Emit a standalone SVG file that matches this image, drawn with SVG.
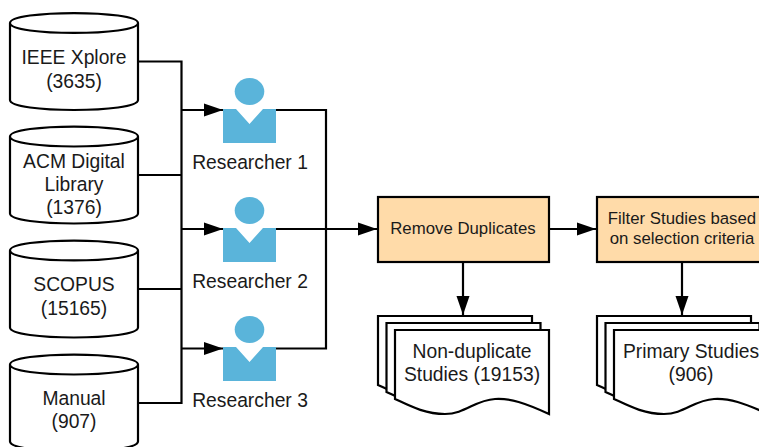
<svg xmlns="http://www.w3.org/2000/svg" width="759" height="447" viewBox="0 0 759 447">
<defs>
<marker id="arrow" markerUnits="userSpaceOnUse" markerWidth="20" markerHeight="14" refX="19" refY="7" orient="auto"><path d="M0,0.5 L19,7 L0,13.5 Z" fill="#000"/></marker>
<path id="cyl" d="M0,10 C0,-3.300 128,-3.300 128,10 V87 C128,100.300 0,100.300 0,87 Z M0,10 C0,23.300 128,23.300 128,10"/>
<g id="person"><ellipse cx="26.500" cy="13.500" rx="14.800" ry="13.500" fill="#5ab4da"/><path d="M0,31 H13 L26.500,46 L40,31 H53 V65 H0 Z" fill="#5ab4da"/></g>
<path id="sheet" d="M0,0 H154 V84 C130,73 115,68 100,69 C80,70 70,84 50,84 C30,84 15,76 0,69 Z"/>
</defs>
<style>
text{font-family:"Liberation Sans",Arial,sans-serif;fill:#1a1a1a;text-anchor:middle}
.s{fill:#fff;stroke:#000;stroke-width:2.200}
.b{fill:#ffdba9;stroke:#000;stroke-width:2.200}
.f18{font-size:19.300px}.f15{font-size:16.800px}
.c{fill:none;stroke:#000;stroke-width:2.200}
</style>
<g id="connectors">
<path class="c" d="M138,61.500 H181.500 V403 H138"/>
<path class="c" d="M138,175 H181.500"/>
<path class="c" d="M138,289 H181.500"/>
<path class="c" marker-end="url(#arrow)" d="M181.500,110 H223"/>
<path class="c" marker-end="url(#arrow)" d="M181.500,229 H223"/>
<path class="c" marker-end="url(#arrow)" d="M181.500,348.500 H223"/>
<path class="c" d="M276,110 H326 V348.500 H276"/>
<path class="c" marker-end="url(#arrow)" d="M276,229 H377"/>
<path class="c" marker-end="url(#arrow)" d="M549,229 H596"/>
<path class="c" marker-end="url(#arrow)" d="M463,262 V315"/>
<path class="c" marker-end="url(#arrow)" d="M682,262 V315"/>
</g>
<g id="db-ieee"><use href="#cyl" x="10" y="13" class="s"/><text class="f18" x="74" y="64">IEEE Xplore</text><text class="f18" x="74" y="87.500">(3635)</text></g>
<g id="db-acm"><use href="#cyl" x="10" y="126.500" class="s"/><text class="f18" x="74" y="168">ACM Digital</text><text class="f18" x="74" y="191">Library</text><text class="f18" x="74" y="214">(1376)</text></g>
<g id="db-scopus"><use href="#cyl" x="10" y="240.500" class="s"/><text class="f18" x="74" y="291">SCOPUS</text><text class="f18" x="74" y="315">(15165)</text></g>
<g id="db-manual"><use href="#cyl" x="10" y="354.500" class="s"/><text class="f18" x="74" y="405">Manual</text><text class="f18" x="74" y="428">(907)</text></g>
<g id="researcher-1"><use href="#person" x="223" y="78"/><text class="f18" x="250" y="169">Researcher 1</text></g>
<g id="researcher-2"><use href="#person" x="223" y="197"/><text class="f18" x="250" y="288">Researcher 2</text></g>
<g id="researcher-3"><use href="#person" x="223" y="316"/><text class="f18" x="250" y="407">Researcher 3</text></g>
<g id="remove-duplicates"><rect class="b" x="378" y="197" width="171" height="65"/><text class="f15" x="463" y="234">Remove Duplicates</text></g>
<g id="filter-studies"><rect class="b" x="597" y="197" width="171" height="65"/><text class="f15" x="682" y="224">Filter Studies based</text><text class="f15" x="682" y="244">on selection criteria</text></g>
<g id="non-duplicate"><use href="#sheet" x="378" y="316" class="s"/><use href="#sheet" x="386.500" y="323" class="s"/><use href="#sheet" x="395" y="330" class="s"/><text class="f18" x="472" y="358">Non-duplicate</text><text class="f18" x="472" y="381">Studies (19153)</text></g>
<g id="primary-studies"><use href="#sheet" x="597" y="316" class="s"/><use href="#sheet" x="605.500" y="323" class="s"/><use href="#sheet" x="614" y="330" class="s"/><text class="f18" x="691" y="358">Primary Studies</text><text class="f18" x="691" y="381">(906)</text></g>
</svg>
